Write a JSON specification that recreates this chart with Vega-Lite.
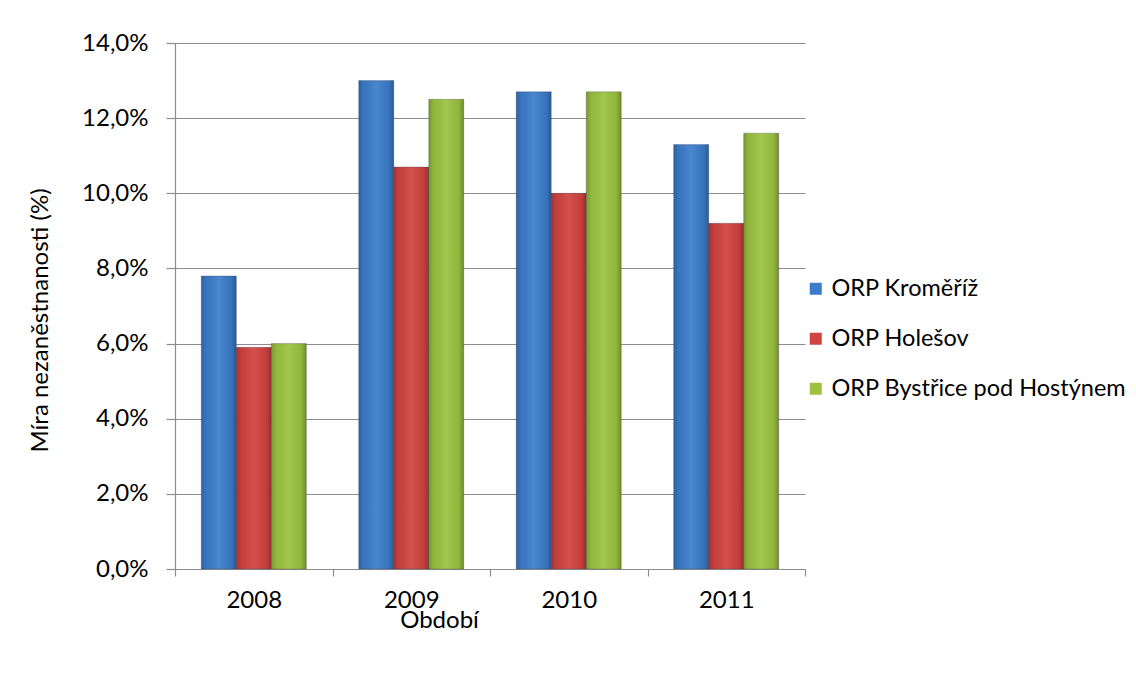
{
  "$schema": "https://vega.github.io/schema/vega-lite/v6.json",
  "width": 630,
  "height": 526,
  "autosize": "none",
  "padding": {"left": 175, "top": 43, "right": 331, "bottom": 105},
  "background": "white",
  "config": {
    "font": "Lato",
    "view": {"stroke": null},
    "axis": {"labelFont": "Lato", "titleFont": "Lato", "labelColor": "#000000", "titleColor": "#000000", "labelFontWeight": "normal", "titleFontWeight": "normal"}
  },
  "data": {
    "values": [
      {"year": "2008", "series": "ORP Kroměříž", "value": 7.8},
      {"year": "2008", "series": "ORP Holešov", "value": 5.9},
      {"year": "2008", "series": "ORP Bystřice pod Hostýnem", "value": 6.0},
      {"year": "2009", "series": "ORP Kroměříž", "value": 13.0},
      {"year": "2009", "series": "ORP Holešov", "value": 10.7},
      {"year": "2009", "series": "ORP Bystřice pod Hostýnem", "value": 12.5},
      {"year": "2010", "series": "ORP Kroměříž", "value": 12.7},
      {"year": "2010", "series": "ORP Holešov", "value": 10.0},
      {"year": "2010", "series": "ORP Bystřice pod Hostýnem", "value": 12.7},
      {"year": "2011", "series": "ORP Kroměříž", "value": 11.3},
      {"year": "2011", "series": "ORP Holešov", "value": 9.2},
      {"year": "2011", "series": "ORP Bystřice pod Hostýnem", "value": 11.6}
    ]
  },
  "encoding": {
    "y": {
      "field": "value", "type": "quantitative",
      "scale": {"domain": [0, 14], "nice": false},
      "axis": {
        "title": "Míra nezaněstnanosti (%)", "titleFontSize": 24,
        "titleX": -135, "titleY": 277, "titleBaseline": "middle", "titleAlign": "center", "titleAnchor": null,
        "values": [0, 2, 4, 6, 8, 10, 12, 14],
        "labelExpr": "replace(format(datum.value, '.1f'), '.', ',') + '%'",
        "labelFontSize": 24, "labelPadding": 18, "labelBaseline": "middle",
        "tickSize": 9, "tickColor": "#8c8c8c", "tickWidth": 1.2,
        "domainColor": "#8c8c8c", "domainWidth": 1.2,
        "grid": true, "gridColor": "#8c8c8c", "gridWidth": 1.2
      }
    }
  },
  "layer": [
    {
      "mark": {"type": "text", "text": "", "opacity": 0},
      "encoding": {
        "x": {
          "field": "year", "type": "nominal",
          "scale": {"paddingInner": 0, "paddingOuter": 0},
          "axis": {
            "title": "Období", "titleFontSize": 24, "titleX": 264, "titleY": 51,
            "titleBaseline": "middle", "titleAlign": "center", "titleAnchor": null,
            "labelAngle": 0, "labelFontSize": 24, "labelPadding": 12,
            "tickBand": "extent", "tickSize": 7, "tickColor": "#8c8c8c", "tickWidth": 1.2,
            "domainColor": "#8c8c8c", "domainWidth": 1.2, "grid": false
          }
        }
      }
    },
    {
      "mark": {"type": "bar", "stroke": "#2a3f5a", "strokeOpacity": 0.35, "strokeWidth": 0.8},
      "encoding": {
        "x": {"field": "year", "type": "nominal", "scale": {"paddingInner": 0.333, "paddingOuter": 0.167}, "axis": null},
        "xOffset": {"field": "series", "type": "nominal", "sort": ["ORP Kroměříž", "ORP Holešov", "ORP Bystřice pod Hostýnem"], "scale": {"paddingInner": 0, "paddingOuter": 0}},
        "color": {
          "field": "series", "type": "nominal",
          "sort": ["ORP Kroměříž", "ORP Holešov", "ORP Bystřice pod Hostýnem"],
          "scale": {"domain": ["ORP Kroměříž", "ORP Holešov", "ORP Bystřice pod Hostýnem"], "range": ["#3c7cca", "#d0433f", "#9cc240"]},
          "legend": {
            "title": null, "orient": "none", "legendX": 629, "legendY": 234,
            "symbolType": "square", "symbolSize": 144, "symbolStrokeWidth": 0,
            "labelFontSize": 23.5, "labelFont": "Lato", "labelColor": "#000000", "labelOffset": 4,
            "rowPadding": 25, "padding": 0, "labelLimit": 400
          }
        }
      }
    },
    {
      "mark": {
        "type": "bar",
        "fill": {
          "gradient": "linear", "x1": 0, "y1": 0, "x2": 1, "y2": 0,
          "stops": [
            {"offset": 0, "color": "rgba(0,0,0,0.22)"},
            {"offset": 0.15, "color": "rgba(0,0,0,0.05)"},
            {"offset": 0.5, "color": "rgba(255,255,255,0.08)"},
            {"offset": 0.85, "color": "rgba(0,0,0,0.06)"},
            {"offset": 1, "color": "rgba(0,0,0,0.28)"}
          ]
        }
      },
      "encoding": {
        "x": {"field": "year", "type": "nominal", "scale": {"paddingInner": 0.333, "paddingOuter": 0.167}, "axis": null},
        "xOffset": {"field": "series", "type": "nominal", "sort": ["ORP Kroměříž", "ORP Holešov", "ORP Bystřice pod Hostýnem"], "scale": {"paddingInner": 0, "paddingOuter": 0}}
      }
    }
  ],
  "resolve": {"scale": {"x": "independent"}}
}
